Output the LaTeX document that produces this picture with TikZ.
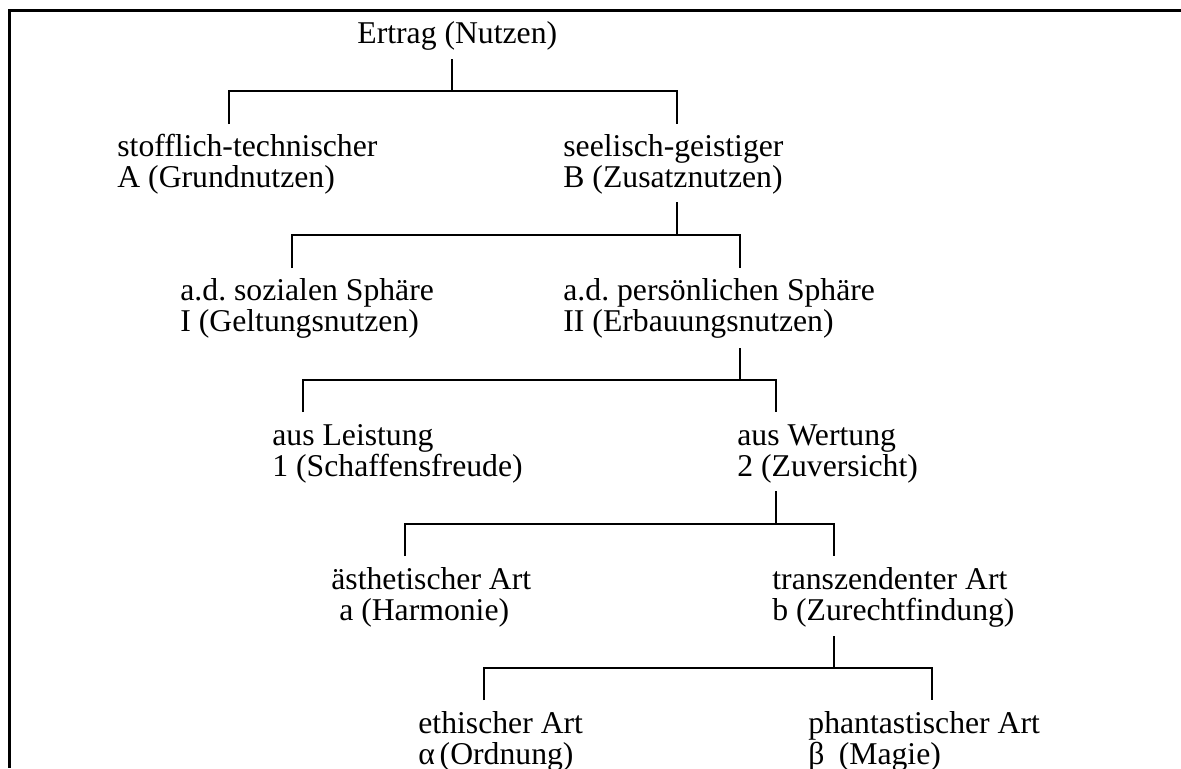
\documentclass[tikz,border=0pt]{standalone}
\usepackage{fontspec}
\setmainfont{Liberation Serif}
\newcommand\twoline[2]{\begin{tabular}[t]{@{}l@{}}#1\\#2\end{tabular}}
\begin{document}
\frenchspacing
\begin{tikzpicture}[x=0.5pt,y=-0.5pt,
  lbl/.style={anchor=base west,inner sep=0pt,font=\fontsize{15.85pt}{15.25pt}\selectfont},
  conn/.style={line width=1.15pt},
  frame/.style={line width=1.6pt}]
\useasboundingbox (0,0) rectangle (1181,768);
\draw[frame] (1181,10.5) -- (9.75,10.5) -- (9.75,768);

% texts
\node[lbl] (root) at (357,43) {Ertrag (Nutzen)};
\node[lbl] (A) at (117,156) {\twoline{stofflich-technischer}{A (Grundnutzen)}};
\node[lbl] (B) at (563,156) {\twoline{seelisch-geistiger}{B (Zusatznutzen)}};
\node[lbl] (I) at (180,300) {\twoline{a.d. sozialen Sphäre}{I (Geltungsnutzen)}};
\node[lbl] (II) at (563,300) {\twoline{a.d. persönlichen Sphäre}{II (Erbauungsnutzen)}};
\node[lbl] (one) at (272,445) {\twoline{aus Leistung}{1 (Schaffensfreude)}};
\node[lbl] (two) at (737,445) {\twoline{aus Wertung}{2 (Zuversicht)}};
\node[lbl] (a) at (331,589) {\twoline{ästhetischer Art}{\hspace{0.25em}a (Harmonie)}};
\node[lbl] (b) at (772,589) {\twoline{transzendenter Art}{b (Zurechtfindung)}};
\node[lbl] (alpha) at (418,733) {\twoline{ethischer Art}{α\hspace{0.15em}(Ordnung)}};
\node[lbl] (beta) at (808,733) {\twoline{phantastischer Art}{β\hspace{0.45em}(Magie)}};

% level 1
\coordinate (t1) at (452,59);  \coordinate (j1) at (452,91);
\coordinate (dA) at (229,124); \coordinate (dB) at (677,124);
\draw[conn] (t1) -- (j1) (dA) |- (j1) -| (dB);
% level 2
\coordinate (t2) at (677,202); \coordinate (j2) at (677,235);
\coordinate (dI) at (292,268); \coordinate (dII) at (740,268);
\draw[conn] (t2) -- (j2) (dI) |- (j2) -| (dII);
% level 3
\coordinate (t3) at (740,348); \coordinate (j3) at (740,380);
\coordinate (d1) at (303,412); \coordinate (d2) at (776,412);
\draw[conn] (t3) -- (j3) (d1) |- (j3) -| (d2);
% level 4
\coordinate (t4) at (776,491); \coordinate (j4) at (776,524);
\coordinate (da) at (405,556); \coordinate (db) at (834,556);
\draw[conn] (t4) -- (j4) (da) |- (j4) -| (db);
% level 5
\coordinate (t5) at (834,636); \coordinate (j5) at (834,668);
\coordinate (dal) at (484,700); \coordinate (dbe) at (932,700);
\draw[conn] (t5) -- (j5) (dal) |- (j5) -| (dbe);
\end{tikzpicture}
\end{document}
